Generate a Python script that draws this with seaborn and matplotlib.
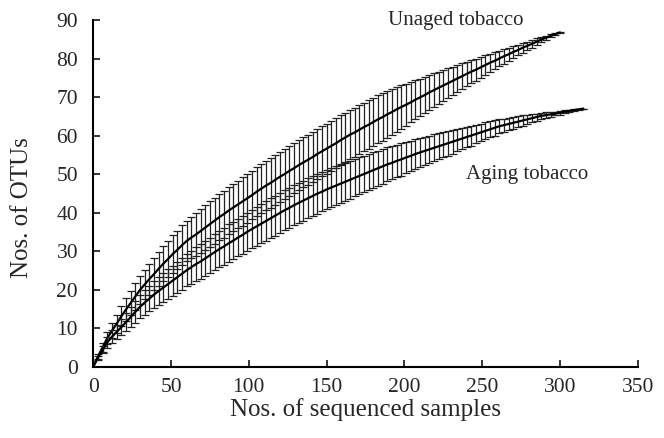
import numpy as np
import pandas as pd
import seaborn as sns
from matplotlib import pyplot as plt

# sequencing depth (every 3rd sample)
x_unaged = np.arange(0, 301, 3)
x_aging = np.arange(0, 316, 3)

otu_unaged = [0, 2.6, 5.0, 7.4, 9.3, 11.1, 13.0, 14.8, 16.5, 18.2,
              19.9, 21.3, 22.7, 24.0, 25.4, 26.7, 27.9, 29.2, 30.3, 31.5,
              32.6, 33.5, 34.3, 35.2, 36.1, 37.0, 37.9, 38.8, 39.6, 40.5,
              41.3, 42.1, 42.9, 43.7, 44.5, 45.4, 46.2, 47.0, 47.7, 48.5,
              49.3, 50.0, 50.8, 51.5, 52.3, 53.0, 53.7, 54.4, 55.2, 55.9,
              56.6, 57.3, 58.0, 58.8, 59.5, 60.2, 60.8, 61.5, 62.2, 62.8,
              63.5, 64.2, 64.8, 65.5, 66.1, 66.8, 67.4, 68.0, 68.6, 69.3,
              69.9, 70.5, 71.2, 71.8, 72.4, 73.0, 73.6, 74.2, 74.8, 75.4,
              76.0, 76.6, 77.1, 77.7, 78.3, 78.9, 79.4, 80.0, 80.6, 81.1,
              81.7, 82.2, 82.8, 83.3, 83.8, 84.4, 84.9, 85.4, 85.9, 86.3,
              86.8]
sd_unaged = [0, 0.6, 1.1, 1.6, 2.0, 2.3, 2.6, 2.9, 3.1, 3.4,
             3.6, 3.8, 4.0, 4.2, 4.4, 4.6, 4.7, 4.9, 5.0, 5.2,
             5.3, 5.4, 5.5, 5.7, 5.8, 5.9, 6.0, 6.0, 6.1, 6.1,
             6.2, 6.2, 6.3, 6.3, 6.3, 6.4, 6.4, 6.4, 6.5, 6.5,
             6.5, 6.5, 6.5, 6.5, 6.5, 6.5, 6.5, 6.5, 6.5, 6.5,
             6.5, 6.5, 6.5, 6.4, 6.4, 6.4, 6.4, 6.3, 6.3, 6.3,
             6.2, 6.2, 6.2, 6.1, 6.0, 5.8, 5.6, 5.4, 5.2, 5.0,
             4.8, 4.7, 4.5, 4.4, 4.2, 4.0, 3.9, 3.7, 3.5, 3.4,
             3.2, 3.0, 2.9, 2.7, 2.5, 2.4, 2.2, 2.0, 1.9, 1.7,
             1.6, 1.4, 1.3, 1.1, 1.0, 0.8, 0.7, 0.5, 0.4, 0.2,
             0.1]

otu_aging = [0, 2.3, 4.3, 6.3, 7.7, 9.0, 10.2, 11.5, 12.8, 14.2,
             15.5, 16.6, 17.6, 18.7, 19.6, 20.5, 21.4, 22.3, 23.2, 24.1,
             25.0, 25.8, 26.6, 27.3, 28.1, 28.9, 29.7, 30.5, 31.2, 32.0,
             32.7, 33.5, 34.2, 35.0, 35.7, 36.4, 37.1, 37.8, 38.5, 39.2,
             39.9, 40.6, 41.2, 41.9, 42.5, 43.1, 43.7, 44.3, 44.9, 45.4,
             46.0, 46.5, 47.0, 47.5, 48.0, 48.5, 49.0, 49.5, 50.0, 50.5,
             51.0, 51.5, 52.0, 52.5, 52.9, 53.4, 53.8, 54.3, 54.7, 55.2,
             55.6, 56.0, 56.4, 56.8, 57.2, 57.6, 58.0, 58.4, 58.8, 59.2,
             59.6, 60.0, 60.4, 60.8, 61.2, 61.6, 62.0, 62.4, 62.7, 63.0,
             63.3, 63.6, 63.9, 64.2, 64.5, 64.8, 65.1, 65.3, 65.5, 65.7,
             65.9, 66.2, 66.4, 66.6, 66.8, 67.0]
sd_aging = [0, 0.5, 0.9, 1.4, 1.7, 1.9, 2.1, 2.4, 2.6, 2.8,
            3.0, 3.2, 3.3, 3.5, 3.6, 3.7, 3.8, 3.9, 4.0, 4.1,
            4.2, 4.3, 4.4, 4.5, 4.5, 4.6, 4.7, 4.7, 4.8, 4.9,
            4.9, 4.9, 5.0, 5.0, 5.0, 5.1, 5.1, 5.1, 5.2, 5.2,
            5.2, 5.2, 5.2, 5.2, 5.2, 5.2, 5.2, 5.2, 5.2, 5.1,
            5.1, 5.1, 5.0, 5.0, 4.9, 4.9, 4.8, 4.8, 4.7, 4.7,
            4.6, 4.5, 4.5, 4.4, 4.3, 4.2, 4.2, 4.1, 4.0, 3.9,
            3.8, 3.7, 3.6, 3.5, 3.4, 3.3, 3.2, 3.1, 2.9, 2.8,
            2.7, 2.6, 2.4, 2.3, 2.2, 2.1, 2.0, 1.8, 1.7, 1.6,
            1.5, 1.4, 1.3, 1.1, 1.0, 0.9, 0.8, 0.7, 0.6, 0.5,
            0.5, 0.4, 0.3, 0.2, 0.1, 0.0]

unaged = pd.DataFrame({'samples': x_unaged, 'otus': otu_unaged, 'sd': sd_unaged})
aging = pd.DataFrame({'samples': x_aging, 'otus': otu_aging, 'sd': sd_aging})

sns.set_style("ticks")
plt.rcParams['font.family'] = ['Liberation Serif', 'DejaVu Serif']

fig = plt.figure(figsize=(6.64, 4.38), dpi=100)
ax = fig.add_axes([0.1405, 0.1632, 0.82, 0.7911])

for df in [unaged, aging]:
    ax.errorbar(df['samples'], df['otus'], yerr=df['sd'], fmt='none',
                ecolor='#222222', elinewidth=0.9, capsize=2.8, capthick=0.9)
    sns.lineplot(data=df, x='samples', y='otus', ax=ax, color='black', linewidth=1.6)

ax.text(233, 90, "Unaged tobacco", ha='center', va='center', fontsize=15)
ax.text(279, 50, "Aging tobacco", ha='center', va='center', fontsize=15)

ax.set_xlim(0, 350)
ax.set_ylim(0, 90)
ax.set_xticks(np.arange(0, 351, 50))
ax.set_yticks(np.arange(0, 91, 10))
ax.tick_params(direction='in', length=5, width=1.3, labelsize=15.5)
ax.tick_params(axis='x', pad=8)
ax.tick_params(axis='y', pad=11)
for s in ['left', 'bottom']:
    ax.spines[s].set_linewidth(1.5)
    ax.spines[s].set_color('black')
sns.despine(ax=ax)
ax.set_xlabel("Nos. of sequenced samples", fontsize=18)
ax.set_ylabel("Nos. of OTUs", fontsize=18)
ax.xaxis.set_label_coords(0.5, -0.09)
ax.yaxis.set_label_coords(-0.11, 0.46)

fig.savefig("out.png", dpi=100)
